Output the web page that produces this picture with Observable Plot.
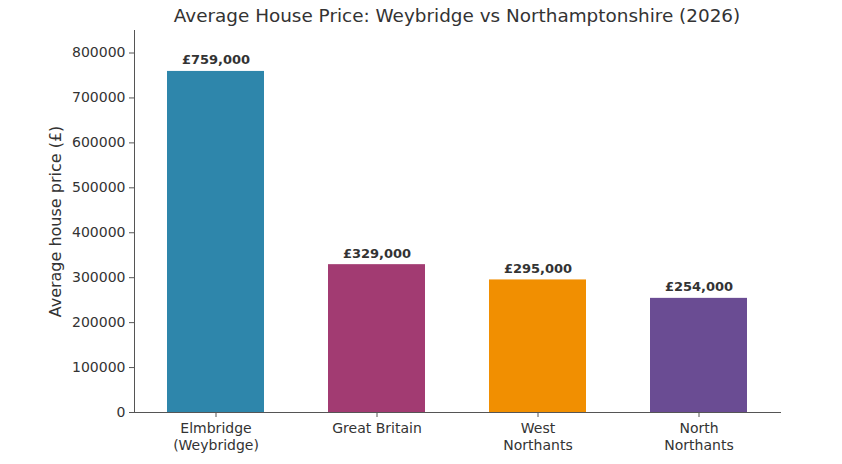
<!DOCTYPE html>
<html><head><meta charset="utf-8">
<script src="https://cdn.jsdelivr.net/npm/d3@7"></script>
<script src="https://cdn.jsdelivr.net/npm/@observablehq/plot@0.6"></script>
<style>
body{margin:0;background:#fff;font-family:"DejaVu Sans",sans-serif;}
#title{height:30px;width:842px;text-align:center;font-size:18.4px;color:#333;line-height:32px;margin-left:36px;white-space:nowrap;}
#wrap{width:842px;}
</style></head><body>
<div id="wrap"><div id="title">Average House Price: Weybridge vs Northamptonshire (2026)</div><div id="chart"></div></div>
<script>
const regions = ["Elmbridge\n(Weybridge)", "Great Britain", "West\nNorthants", "North\nNorthants"];
const prices = [759000, 329000, 295000, 254000];
const labels = ["£759,000", "£329,000", "£295,000", "£254,000"];
const colors = ["#2E86AB", "#A23B72", "#F18F01", "#6A4C93"];
const yTicks = [0, 100000, 200000, 300000, 400000, 500000, 600000, 700000, 800000];

const data = regions.map((r, i) => ({region: r, price: prices[i], label: labels[i], color: colors[i]}));

const chart = Plot.plot({
  width: 842,
  height: 434,
  marginTop: 0,
  marginLeft: 134,
  marginRight: 62,
  marginBottom: 52,
  style: {fontFamily: "DejaVu Sans, sans-serif", color: "#333", background: "#fff"},
  x: {domain: regions, padding: 0.4, paddingOuter: 0.2, label: null},
  y: {domain: [0, 850080], label: null},
  marks: [
    Plot.barY(data, {x: "region", y: "price", fill: "color"}),
    Plot.text(data, {x: "region", y: "price", text: "label", lineAnchor: "bottom", dy: -7, fontWeight: "bold", fontSize: 13, fill: "#333"}),
    Plot.axisY({ticks: yTicks, tickFormat: d => String(d), tickSize: 5, tickPadding: 4, fontSize: 14, fill: "#333", stroke: "#555",
      label: "Average house price (£)", labelAnchor: "center", labelArrow: "none", labelOffset: 85}),
    Plot.axisX({tickSize: 5, tickPadding: 4, fontSize: 14, lineHeight: 1.2, fill: "#333", stroke: "#555", label: null}),
    Plot.frame({anchor: "left", stroke: "#555"}),
    Plot.frame({anchor: "bottom", stroke: "#555"})
  ]
});
document.getElementById("chart").appendChild(chart);
const lab = chart.querySelectorAll("g[aria-label='y-axis label'] text");
lab.forEach(t => t.setAttribute("font-size", 16));
</script>
</body></html>
